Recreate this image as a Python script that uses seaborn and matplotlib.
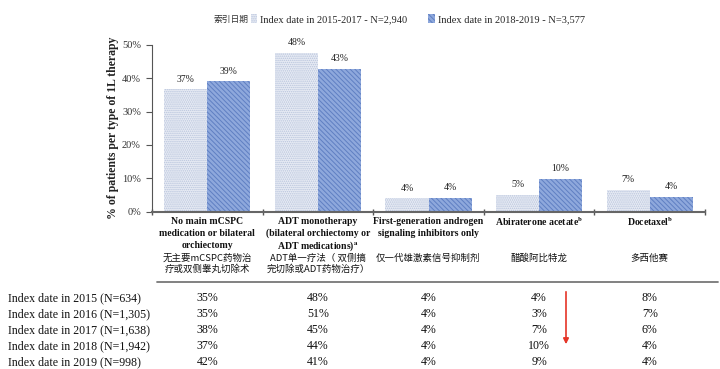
import matplotlib
matplotlib.use("Agg")
import matplotlib.pyplot as plt
import matplotlib.transforms as mtransforms
from matplotlib.patches import Patch
from matplotlib.lines import Line2D
import seaborn as sns
import pandas as pd

# ---------------- data ----------------
categories_en = [
    "No main mCSPC\nmedication or bilateral\norchiectomy",
    "ADT monotherapy\n(bilateral orchiectomy or\nADT medications)$^{\\mathbf{a}}$",
    "First-generation androgen\nsignaling inhibitors only",
    "Abiraterone acetate$^{\\mathbf{b}}$",
    "Docetaxel$^{\\mathbf{b}}$",
]
categories_zh = [
    "无主要mCSPC药物治\n疗或双侧睾丸切除术",
    "ADT单一疗法（ 双侧搞\n完切除或ADT药物治疗）",
    "仅一代雄激素信号抑制剂",
    "醋酸阿比特龙",
    "多西他赛",
]
series_names = ["Index date in 2015-2017 - N=2,940", "Index date in 2018-2019 - N=3,577"]
values_1517 = [36.6, 47.6, 4.0, 5.0, 6.5]
values_1819 = [39.0, 42.8, 4.2, 9.8, 4.4]
labels_1517 = ["37%", "48%", "4%", "5%", "7%"]
labels_1819 = ["39%", "43%", "4%", "10%", "4%"]
yticks = [0, 10, 20, 30, 40, 50]

row_labels = [
    "Index date in 2015 (N=634)",
    "Index date in 2016 (N=1,305)",
    "Index date in 2017 (N=1,638)",
    "Index date in 2018 (N=1,942)",
    "Index date in 2019 (N=998)",
]
table_values = [
    ["35%", "48%", "4%", "4%", "8%"],
    ["35%", "51%", "4%", "3%", "7%"],
    ["38%", "45%", "4%", "7%", "6%"],
    ["37%", "44%", "4%", "10%", "4%"],
    ["42%", "41%", "4%", "9%", "4%"],
]

# ---------------- styling ----------------
sns.set_style("white")
plt.rcParams["font.family"] = ["Liberation Serif", "Noto Sans CJK SC", "DejaVu Sans"]
plt.rcParams["mathtext.fontset"] = "stix"
plt.rcParams["hatch.linewidth"] = 0.7

W, H = 720, 369
fig = plt.figure(figsize=(7.2, 3.69), dpi=100)
x0, x1, ytop, ybot = 152, 705, 44.7, 211.7
ax = fig.add_axes([x0 / W, 1 - ybot / H, (x1 - x0) / W, (ybot - ytop) / H])

df = pd.DataFrame({
    "cat": list(range(len(values_1517))) * 2,
    "val": values_1517 + values_1819,
    "series": [series_names[0]] * len(values_1517) + [series_names[1]] * len(values_1819),
})
light_fc, light_ec = "#e7ebf4", "#b8c4dc"
dark_fc, dark_ec = "#8ea8dc", "#5f7fc2"
sns.barplot(data=df, x="cat", y="val", hue="series", ax=ax, width=0.78,
            palette=[light_fc, dark_fc], legend=False, saturation=1)

styles = [(light_fc, light_ec, "........"), (dark_fc, dark_ec, "\\\\\\\\\\\\\\")]
for cont, (fc, ec, hatch), labs in zip(ax.containers, styles, [labels_1517, labels_1819]):
    for bar in cont:
        bar.set_facecolor(fc)
        bar.set_edgecolor(ec)
        bar.set_hatch(hatch)
        bar.set_linewidth(0)
    ax.bar_label(cont, labels=labs, padding=4, fontsize=7, color="#222222")

ax.set_ylim(0, 50)
ax.set_xlim(-0.5, len(categories_en) - 0.5)
ax.set_yticks(yticks)
ax.set_yticklabels([f"{t}%" for t in yticks], fontsize=7.5, color="#333333")
ax.set_xticks([i - 0.5 for i in range(len(categories_en) + 1)])
ax.set_xticklabels([])
ax.tick_params(axis="x", direction="inout", length=5, width=1, color="#555555", bottom=True)
ax.tick_params(axis="y", direction="out", length=4, width=0.8, color="#555555", left=True, pad=4)
ax.set_xlabel("")
ax.set_ylabel("% of patients per type of 1L therapy", fontsize=8.5, fontweight="bold",
              color="#222222", labelpad=2)
for s in ["top", "right"]:
    ax.spines[s].set_visible(False)
ax.spines["left"].set_color("#555555")
ax.spines["left"].set_linewidth(0.8)
ax.spines["bottom"].set_color("#666666")
ax.spines["bottom"].set_linewidth(1.5)

# category labels (x in data, y in figure), one text per line
blend = mtransforms.blended_transform_factory(ax.transData, fig.transFigure)
en_line_y = [221, 232.5, 244]
zh_line_y = [257.5, 268.5]
for i, (en, zh) in enumerate(zip(categories_en, categories_zh)):
    for ly, line in zip(en_line_y, en.split("\n")):
        ax.text(i, 1 - ly / H, line, transform=blend, ha="center", va="center_baseline",
                fontsize=7, fontweight="bold", color="#111111")
    for ly, line in zip(zh_line_y, zh.split("\n")):
        ax.text(i, 1 - ly / H, line, transform=blend, ha="center", va="center_baseline",
                fontsize=6.8, family=["Noto Sans CJK SC", "DejaVu Sans"], color="#111111")

# table separator line
fig.add_artist(Line2D([157 / W, 718 / W], [1 - 282 / H, 1 - 282 / H], color="#777777", lw=1.3))

# table rows
row_y = [298, 314, 330, 346, 362]
for ry, lab, vals in zip(row_y, row_labels, table_values):
    fig.text(8 / W, 1 - ry / H, lab, ha="left", va="center", fontsize=8.6, color="#111111")
    for i, v in enumerate(vals):
        ax.text(i, 1 - ry / H, v, transform=blend, ha="center", va="center", fontsize=8.6,
                color="#111111")

# red arrow annotation
fig.add_artist(matplotlib.patches.FancyArrowPatch(
    (566 / W, 1 - 289 / H), (566 / W, 1 - 347 / H), transform=fig.transFigure,
    arrowstyle="-|>", mutation_scale=8, color="#e53528", lw=1.2))

# legend
fig.text(213 / W, 1 - 19 / H, "索引日期", ha="left", va="center", fontsize=6.3,
         family=["Noto Sans CJK SC", "DejaVu Sans"], color="#333333")
handles = [Patch(facecolor=fc, edgecolor=ec, hatch=h, linewidth=0) for fc, ec, h in styles]
fig.legend(handles, series_names, loc="center left", bbox_to_anchor=(251 / W, 1 - 19 / H),
           ncol=2, frameon=False, fontsize=7.5, handlelength=0.6, handleheight=0.9,
           handletextpad=0.3, columnspacing=2.0, borderaxespad=0, borderpad=0)

fig.savefig("out.png", dpi=100)
